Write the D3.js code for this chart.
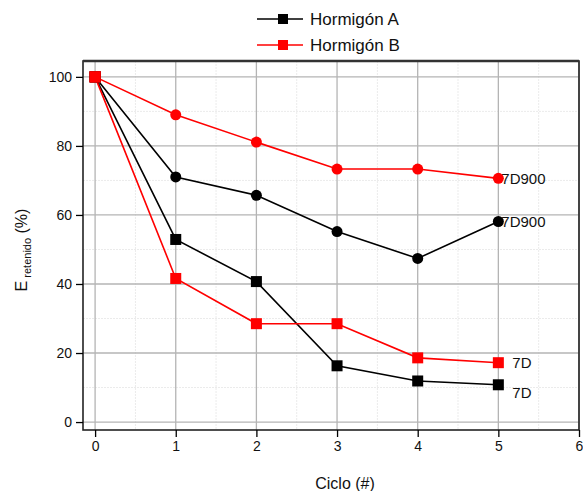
<!DOCTYPE html>
<html>
<head>
<meta charset="utf-8">
<script src="https://cdn.jsdelivr.net/npm/d3@7"></script>
<style>
  body { margin: 0; background: #fff; }
  text { font-family: "Liberation Sans", Arial, sans-serif; }
</style>
</head>
<body>
<div id="chart"></div>
<script>
    // data
    var ciclos = [0, 1, 2, 3, 4, 5];
    var a7D900 = [100, 71, 65.7, 55.2, 47.4, 58.1];
    var b7D900 = [100, 89, 81.1, 73.3, 73.3, 70.6];
    var a7D = [100, 52.9, 40.7, 16.3, 11.9, 10.8];
    var b7D = [100, 41.6, 28.5, 28.5, 18.6, 17.2];
    var xTicks = [0, 1, 2, 3, 4, 5, 6];
    var yTicks = [0, 20, 40, 60, 80, 100];

    var series = [
      { vals: a7D900, color: "#000", shape: "circle", label: "7D900" },
      { vals: b7D900, color: "#f00", shape: "circle", label: "7D900" },
      { vals: a7D, color: "#000", shape: "square", label: "7D" },
      { vals: b7D, color: "#f00", shape: "square", label: "7D" }
    ];

    var W = 583, H = 491;
    var margin = { top: 61, right: 4, bottom: 61, left: 83 },
      width = W - margin.left - margin.right,
      height = H - margin.top - margin.bottom;

    var root = d3.select("#chart").append("svg")
      .attr("width", W)
      .attr("height", H);
    var svg = root.append("g")
      .attr("transform", "translate(" + margin.left + "," + margin.top + ")");

    var x = d3.scaleLinear().domain([-0.15, 6]).range([0, width]);
    var y = d3.scaleLinear().domain([-2.3, 104.6]).range([height, 0]);

    // minor grid
    var minorX = d3.range(0.5, 6, 1);
    var minorY = d3.range(10, 101, 20);
    svg.selectAll(".mx").data(minorX).enter().append("line")
      .attr("x1", d => x(d)).attr("x2", d => x(d))
      .attr("y1", 0).attr("y2", height)
      .attr("stroke", "#ebebeb").attr("stroke-width", 1)
      .style("stroke-dasharray", "2,1");
    svg.selectAll(".my").data(minorY).enter().append("line")
      .attr("x1", 0).attr("x2", width)
      .attr("y1", d => y(d)).attr("y2", d => y(d))
      .attr("stroke", "#ebebeb").attr("stroke-width", 1)
      .style("stroke-dasharray", "2,1");

    // major grid
    svg.selectAll(".gx").data(xTicks).enter().append("line")
      .attr("x1", d => x(d)).attr("x2", d => x(d))
      .attr("y1", 0).attr("y2", height)
      .attr("stroke", "#b4b4b4").attr("stroke-width", 1.3);
    svg.selectAll(".gy").data(yTicks).enter().append("line")
      .attr("x1", 0).attr("x2", width)
      .attr("y1", d => y(d)).attr("y2", d => y(d))
      .attr("stroke", "#b4b4b4").attr("stroke-width", 1.3);

    // frame
    svg.append("rect")
      .attr("width", width).attr("height", height)
      .attr("fill", "none").attr("stroke", "#222").attr("stroke-width", 1.6);
    svg.append("line").attr("x1", 0).attr("x2", width)
      .attr("y1", 0).attr("y2", 0)
      .attr("stroke", "#333").attr("stroke-width", 2.5);

    // axes
    var xAxis = svg.append("g")
      .attr("transform", "translate(0," + height + ")")
      .call(d3.axisBottom(x).tickValues(xTicks).tickFormat(d3.format("d"))
        .tickSize(7).tickPadding(4));
    var yAxis = svg.append("g")
      .call(d3.axisLeft(y).tickValues(yTicks).tickFormat(d3.format("d"))
        .tickSize(7).tickPadding(4));
    [xAxis, yAxis].forEach(function (g) {
      g.select(".domain").remove();
      g.selectAll("line").attr("stroke", "#000").attr("stroke-width", 1.3);
      g.selectAll("text").style("font-size", "14px").attr("fill", "#111")
        .style("font-family", "'Liberation Sans', Arial, sans-serif");
    });

    // lines + markers
    var line = d3.line()
      .x(function (d, i) { return x(ciclos[i]); })
      .y(function (d) { return y(d); });

    series.forEach(function (s) {
      svg.append("path")
        .datum(s.vals)
        .attr("fill", "none")
        .attr("stroke", s.color)
        .attr("stroke-width", 1.6)
        .attr("d", line);
    });
    series.forEach(function (s) {
      s.vals.forEach(function (v, i) {
        var cx = x(ciclos[i]), cy = y(v);
        if (s.shape === "circle" && i > 0) {
          svg.append("circle").attr("cx", cx).attr("cy", cy).attr("r", 5.5)
            .attr("fill", s.color);
        } else {
          svg.append("rect").attr("x", cx - 5.5).attr("y", cy - 5.5)
            .attr("width", 11).attr("height", 11).attr("fill", s.color);
        }
      });
    });
    // red start marker on top
    svg.append("rect").attr("x", x(0) - 5.5).attr("y", y(100) - 5.5)
      .attr("width", 11).attr("height", 11).attr("fill", "#f00");

    // end labels
    var endLabels = [
      { v: b7D900[5], dx: 3, dy: 0, t: "7D900" },
      { v: a7D900[5], dx: 3, dy: 0, t: "7D900" },
      { v: b7D[5], dx: 14, dy: 0, t: "7D" },
      { v: a7D[5], dx: 14, dy: 8, t: "7D" }
    ];
    endLabels.forEach(function (l) {
      svg.append("text")
        .attr("x", x(5) + l.dx)
        .attr("y", y(l.v) + l.dy)
        .attr("dy", "0.35em")
        .style("font-size", "15px")
        .attr("fill", "#111")
        .text(l.t);
    });

    // axis titles
    root.append("text")
      .attr("x", 345).attr("y", 489)
      .attr("text-anchor", "middle")
      .style("font-size", "16px").attr("fill", "#111")
      .text("Ciclo (#)");
    var yl = root.append("text")
      .attr("transform", "translate(27,250) rotate(-90)")
      .attr("text-anchor", "middle")
      .style("font-size", "16px").attr("fill", "#111");
    yl.append("tspan").text("E");
    yl.append("tspan").attr("dy", 4).style("font-size", "11px").text(" retenido");
    yl.append("tspan").attr("dy", -4).text(" (%)");

    // legend
    var legend = [
      { color: "#000", t: "Hormigón A", yy: 19 },
      { color: "#f00", t: "Hormigón B", yy: 45 }
    ];
    legend.forEach(function (l) {
      root.append("line").attr("x1", 257).attr("x2", 303)
        .attr("y1", l.yy).attr("y2", l.yy)
        .attr("stroke", l.color).attr("stroke-width", 1.6);
      root.append("rect").attr("x", 278).attr("y", l.yy - 5)
        .attr("width", 10).attr("height", 10).attr("fill", l.color);
      root.append("text").attr("x", 310).attr("y", l.yy)
        .attr("dy", "0.35em")
        .style("font-size", "17px").attr("fill", "#111")
        .text(l.t);
    });
</script>
</body>
</html>
